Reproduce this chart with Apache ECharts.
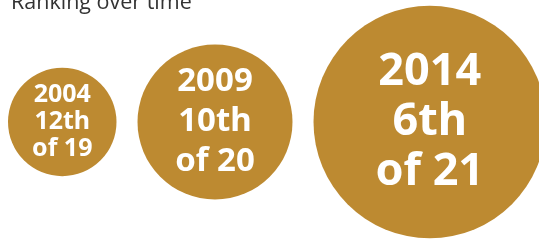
<!DOCTYPE html>
<html>
<head>
<meta charset="utf-8">
<script src="https://cdn.jsdelivr.net/npm/echarts@6/dist/echarts.min.js"></script>
<style>
  html, body { margin: 0; padding: 0; background: #fff; }
  #chart { width: 539px; height: 244px; }
</style>
</head>
<body>
<div id="chart"></div>
<script>
// 排名数据
var years = ["2004", "2009", "2014"];
var ranks = [12, 10, 6];
var totals = [19, 20, 21];

var gold = "#BD8A31";
var unit = 15.5; // 每超过一个国家的直径像素
var fontSizes = [25, 33, 45];
var lineHeights = [27, 40, 50];

function ordinal(n) {
  var s = ["th", "st", "nd", "rd"];
  var v = n % 100;
  return n + (s[(v - 20) % 10] || s[v] || s[0]);
}

// 圆按顺序排开，间距约 21px
var points = [];
var left = 8;
years.forEach(function (y, i) {
  var d = unit * (totals[i] - ranks[i]);
  points.push({
    value: [left + d / 2, 0],
    symbolSize: d,
    label: {
      fontSize: fontSizes[i],
      lineHeight: lineHeights[i],
      formatter: y + "\n" + ordinal(ranks[i]) + "\nof " + totals[i],
    },
  });
  left += d + 21;
});

var myChart = echarts.init(document.getElementById("chart"));
myChart.setOption({
  animation: false,
  title: {
    text: "Ranking over time",
    left: 6,
    top: -13,
    textStyle: {
      fontFamily: "Open Sans",
      fontWeight: "normal",
      fontSize: 21.5,
      color: "#333",
    },
  },
  grid: { left: 0, right: 0, top: 0, bottom: 0 },
  xAxis: { type: "value", min: 0, max: 539, show: false },
  yAxis: { type: "value", min: -1, max: 1, show: false },
  series: [
    {
      type: "scatter",
      symbol: "circle",
      data: points,
      itemStyle: { color: gold, opacity: 1 },
      label: {
        show: true,
        position: "inside",
        color: "#fff",
        fontFamily: "Noto Sans",
        fontWeight: "bold",
        align: "center",
      },
      emphasis: { disabled: true },
    },
  ],
});
</script>
</body>
</html>
